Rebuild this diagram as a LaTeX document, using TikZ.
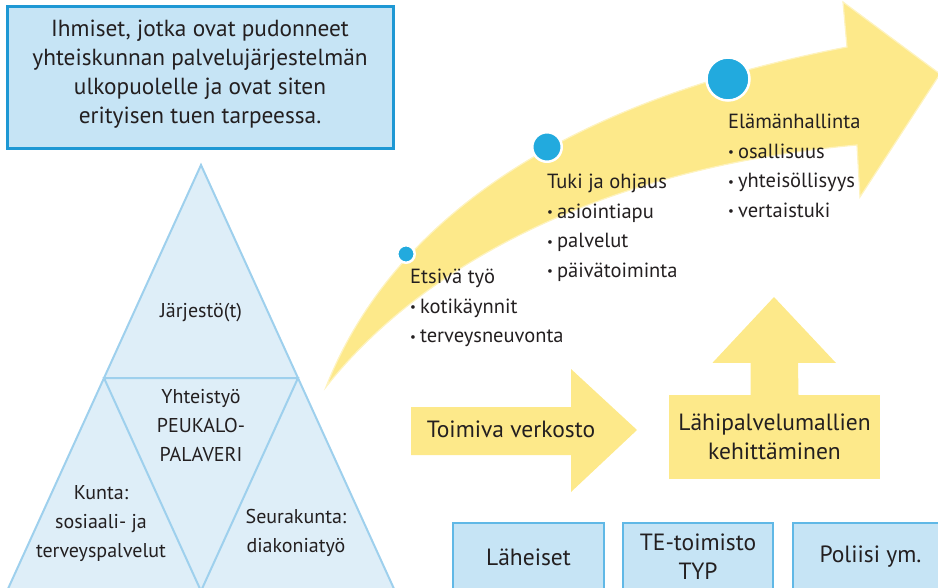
\documentclass[tikz,border=0pt]{standalone}
\usepackage{fontspec}
\setmainfont{PT Sans}
\usetikzlibrary{positioning}
\definecolor{skyline}{RGB}{30,152,212}
\definecolor{skyfill}{RGB}{198,228,245}
\definecolor{trifill}{RGB}{222,238,248}
\definecolor{triline}{RGB}{158,208,237}
\definecolor{boxline}{RGB}{96,184,230}
\definecolor{sun}{RGB}{253,233,138}
\definecolor{dotblue}{RGB}{34,170,222}
\definecolor{ink}{RGB}{35,31,32}
\newcommand{\stepdot}{\raisebox{1.5pt}{\fontsize{13}{13}\selectfont•}\hspace{4pt}}

\begin{document}
\begin{tikzpicture}[x=1pt,y=-1pt,
      every node/.style={text=ink,inner sep=0pt},
      txt/.style={font=\fontsize{20}{29.3}\selectfont,align=center},
      big/.style={font=\fontsize{23.5}{29}\selectfont,align=center},
      steps/.style={font=\fontsize{20.5}{29.5}\selectfont,align=left,anchor=north west},
      introbox/.style={draw=skyline,fill=skyfill,line width=3pt,minimum width=386pt,minimum height=142pt},
      tri/.style={fill=trifill,draw=triline,line width=2pt},
      band/.style={fill=sun,draw=sun!55!white,line width=1.2pt},
      flat/.style={fill=sun},
      dot/.style={circle,fill=dotblue,draw=white,line width=2.5pt},
      lbox/.style={draw=boxline,fill=skyfill,line width=2.5pt,minimum height=68pt,big}]
      \useasboundingbox (0,0) rectangle (938,588);
      \clip (0,0) rectangle (938,588);
      \node[introbox] (intro) at (200,78) {};
      \node[txt,font=\fontsize{23.3}{29}\selectfont,yshift=4pt] (introtxt) at (intro.center)
        {Ihmiset, jotka ovat pudonneet\\yhteiskunnan palvelujärjestelmän\\ulkopuolelle ja ovat siten\\erityisen tuen tarpeessa.};
      \coordinate (apex) at (201,165);
      \coordinate (ml) at (104,378);
      \coordinate (mr) at (298,378);
      \coordinate (bl) at (7,591);
      \coordinate (bm) at (201,591);
      \coordinate (br) at (395,591);
      \draw[tri] (apex) -- (bl) -- (br) -- cycle;
      \draw[tri] (ml) -- (mr) -- (bm) -- cycle;
      \node[txt] (jarj) at (201,313) {Järjestö(t)};
      \node[txt] (yht) at (201,425.5) {Yhteistyö\\PEUKALO-\\PALAVERI};
      \node[txt] (kunta) at (101,523.5) {Kunta:\\sosiaali- ja\\terveyspalvelut};
      \node[txt] (seura) at (296,533) {Seurakunta:\\diakoniatyö};
      \draw[band] (326,387) .. controls (380,250) and (520,110) .. (847,47)
        -- (843,2) -- (940,74) -- (860,197) -- (857,145)
        .. controls (580,170) and (410,280) .. cycle;
      \node[dot,minimum size=17.5pt] (d1) at (406,254) {};
      \node[dot,minimum size=29.5pt] (d2) at (547,147) {};
      \node[dot,minimum size=43pt] (d3) at (728,79) {};
      \node[steps] (etsiva) at (410,263) {\strut Etsivä työ\\\stepdot kotikäynnit\\\stepdot terveysneuvonta};
      \node[steps] (tuki) at (547,168) {\strut Tuki ja ohjaus\\\stepdot asiointiapu\\\stepdot palvelut\\\stepdot päivätoiminta};
      \node[steps] (elama) at (728,108) {\strut Elämänhallinta\\\stepdot osallisuus\\\stepdot yhteisöllisyys\\\stepdot vertaistuki};
      \fill[flat] (411,407) -- (571,407) -- (571,369) -- (637,430) -- (571,492) -- (571,455) -- (411,455) -- cycle;
      \node[big] (verkosto) at (511,429) {Toimiva verkosto};
      \node[flat,big,minimum width=211pt,minimum height=84pt] (lahi) at (774.5,437) {Lähipalvelumallien\\kehittäminen};
      \fill[flat] ([xshift=-24pt]lahi.north) -- ++(0,-32) -- ++(-38,0) -- (774,297)
        -- (836,363) -- ++(-38,0) -- ([xshift=24pt]lahi.north) -- cycle;
      \node[lbox,minimum width=151pt] (laheiset) at (528.5,557) {Läheiset};
      \node[lbox,minimum width=150pt] (te) at (698,557) {TE-toimisto\\TYP};
      \node[lbox,minimum width=155pt] (poliisi) at (870.5,557) {Poliisi ym.};
    \end{tikzpicture}
\end{document}
